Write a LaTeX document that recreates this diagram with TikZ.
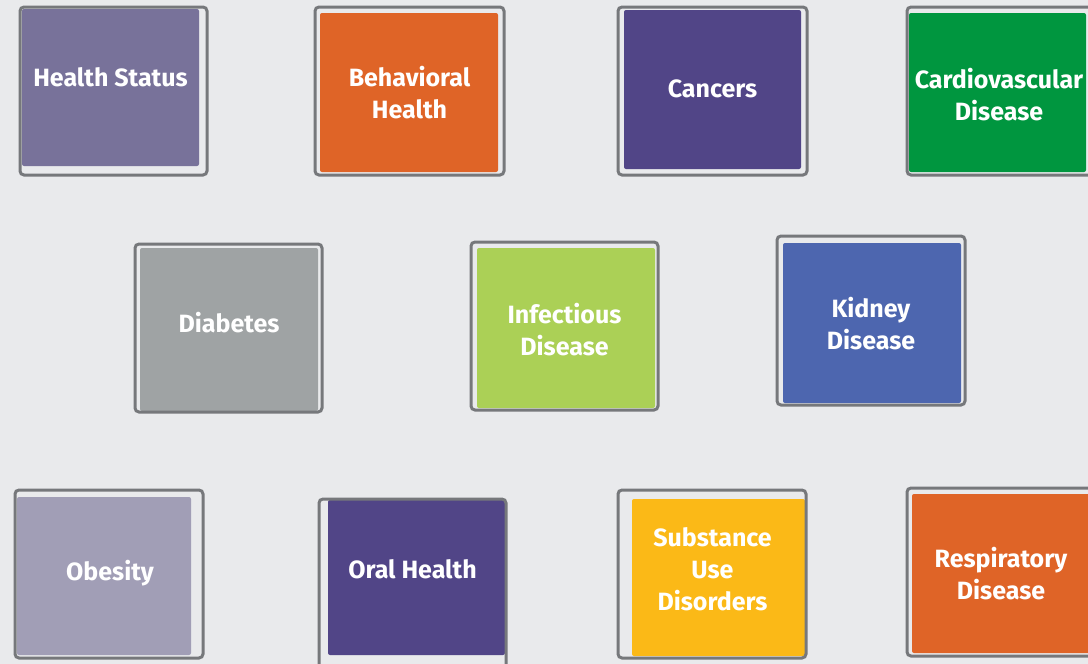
\documentclass[tikz,border=0pt]{standalone}
\usepackage{fontspec}
\setmainfont{Fira Sans}
\definecolor{bgC}{HTML}{E9EAEC}
\definecolor{outC}{HTML}{76787B}
\definecolor{hsC}{HTML}{78729A}
\definecolor{orC}{HTML}{DF6427}
\definecolor{puC}{HTML}{514587}
\definecolor{grC}{HTML}{00963F}
\definecolor{diC}{HTML}{9FA3A4}
\definecolor{liC}{HTML}{ABD056}
\definecolor{blC}{HTML}{4D66AF}
\definecolor{obC}{HTML}{A19EB6}
\definecolor{yeC}{HTML}{FBB917}
\tikzset{
  outl/.style={draw=outC, line width=3pt, rounded corners=4pt, inner sep=0pt, outer sep=0pt, anchor=north west},
  tile/.style={rounded corners=2pt, inner sep=0pt, outer sep=0pt, anchor=north west},
  lbl/.style={text=white, font=\bfseries\fontsize{25}{32}\selectfont, align=center, inner sep=0pt}
}
\begin{document}
\begin{tikzpicture}[x=1pt,y=-1pt]
\fill[bgC] (0,0) rectangle (1088,664);
\useasboundingbox (0,0) rectangle (1088,664);
\clip (0,0) rectangle (1088,664);
% fills
\node[tile, fill=hsC, minimum width=177pt, minimum height=157pt] (hs) at (22,9) {};
\node[tile, fill=orC, minimum width=178pt, minimum height=159pt] (bh) at (320,13) {};
\node[tile, fill=puC, minimum width=177pt, minimum height=159pt] (ca) at (624,10) {};
\node[tile, fill=grC, minimum width=177pt, minimum height=159pt] (cv) at (909,13) {};
\node[tile, fill=diC, minimum width=178pt, minimum height=163pt] (di) at (140,248) {};
\node[tile, fill=liC, minimum width=178pt, minimum height=160pt] (id) at (477,248) {};
\node[tile, fill=blC, minimum width=178pt, minimum height=160pt] (kd) at (783,243) {};
\node[tile, fill=obC, minimum width=174pt, minimum height=158pt] (ob) at (17,497) {};
\node[tile, fill=puC, minimum width=177pt, minimum height=155pt] (oh) at (328,500) {};
\node[tile, fill=yeC, minimum width=173pt, minimum height=157pt] (su) at (632,499) {};
\node[tile, fill=orC, minimum width=190pt, minimum height=159pt] (rd) at (912,494) {};
% outlines
\node[outl, minimum width=187pt, minimum height=168pt] (hs-o) at (20,7) {};
\node[outl, minimum width=189pt, minimum height=168pt] (bh-o) at (315,7) {};
\node[outl, minimum width=189pt, minimum height=168pt] (ca-o) at (618,7) {};
\node[outl, minimum width=200pt, minimum height=168pt] (cv-o) at (907,7) {};
\node[outl, minimum width=187pt, minimum height=168pt] (di-o) at (135,244) {};
\node[outl, minimum width=187pt, minimum height=168pt] (id-o) at (471,242) {};
\node[outl, minimum width=188pt, minimum height=169pt] (kd-o) at (777,236) {};
\node[outl, minimum width=188pt, minimum height=168pt] (ob-o) at (15,490) {};
\node[outl, minimum width=187pt, minimum height=190pt] (oh-o) at (319,499) {};
\node[outl, minimum width=188pt, minimum height=168pt] (su-o) at (618,490) {};
\node[outl, minimum width=200pt, minimum height=168pt] (rd-o) at (907,488) {};
% labels
\node[lbl] (hs-t) at (110.5,77) {Health Status};
\node[lbl] (bh-t) at (409.5,93) {Behavioral\\Health};
\node[lbl] (ca-t) at (712.5,89) {Cancers};
\node[lbl] (cv-t) at (999,95) {Cardiovascular\\Disease};
\node[lbl] (di-t) at (229,322.5) {Diabetes};
\node[lbl] (id-t) at (564.5,330) {Infectious\\Disease};
\node[lbl] (kd-t) at (871,324) {Kidney\\Disease};
\node[lbl, text depth=0pt] (ob-t) at (110,570.5) {Obesity};
\node[lbl] (oh-t) at (412.5,569.5) {Oral Health};
\node[lbl] (su-t) at (712.5,569.5) {Substance\\Use\\Disorders};
\node[lbl] (rd-t) at (1001,574) {Respiratory\\Disease};
\end{tikzpicture}
\end{document}
